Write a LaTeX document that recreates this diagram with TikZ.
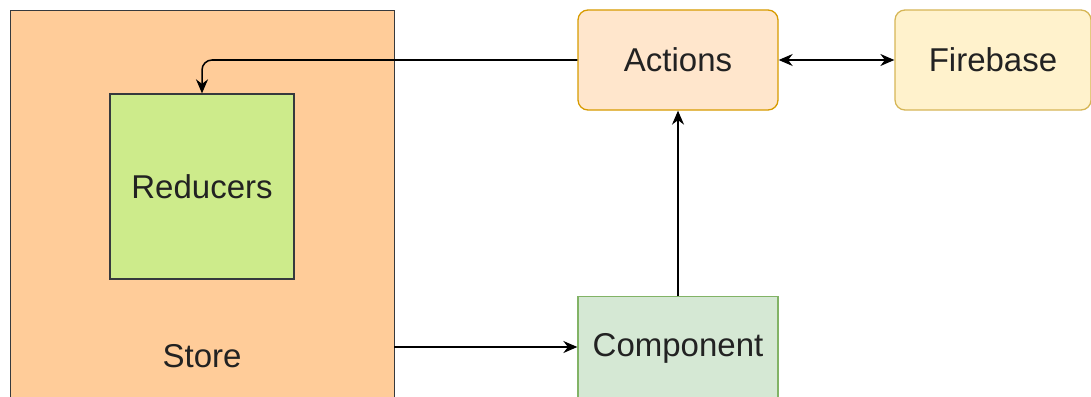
\documentclass[tikz,border=0pt]{standalone}
\usepackage{fontspec}
\setmainfont{Liberation Sans}
\usetikzlibrary{arrows.meta}
\definecolor{storefill}{HTML}{FFCC99}
\definecolor{darkedge}{HTML}{36393D}
\definecolor{redfill}{HTML}{CDEB8B}
\definecolor{actfill}{HTML}{FFE6CC}
\definecolor{actedge}{HTML}{D79B00}
\definecolor{firefill}{HTML}{FFF2CC}
\definecolor{fireedge}{HTML}{D6B656}
\definecolor{compfill}{HTML}{D5E8D4}
\definecolor{compedge}{HTML}{82B366}
\definecolor{txt}{HTML}{222222}
\tikzset{
  lbl/.style={text=txt, font=\fontsize{33}{38}\selectfont},
  box/.style={draw, line width=1.3pt, inner sep=0pt, lbl},
  tip/.style={Stealth[length=14pt,width=12pt]},
  conn/.style={draw=black, line width=1.5pt, -{Stealth[length=14pt,width=12pt]}},
  conn2/.style={draw=black, line width=1.5pt, {Stealth[length=14pt,width=12pt]}-{Stealth[length=14pt,width=12pt]}}
}
\begin{document}
\begin{tikzpicture}[x=1pt,y=-1pt]
\useasboundingbox (0,0) rectangle (1091,396);
\node[box, draw=darkedge, fill=storefill, minimum width=384pt, minimum height=400pt, anchor=north west] (store) at (10,10) {};
\node[lbl] (storelbl) at (202,356) {Store};
\node[box, draw=darkedge, fill=redfill, minimum width=184pt, minimum height=185pt] (red) at (202,186.5) {Reducers};
\node[box, draw=actedge, fill=actfill, rounded corners=10pt, minimum width=200pt, minimum height=100pt] (act) at (678,60) {Actions};
\node[box, draw=fireedge, fill=firefill, rounded corners=10pt, minimum width=196pt, minimum height=100pt] (fire) at (993,60) {Firebase};
\node[box, draw=compedge, fill=compfill, minimum width=200pt, minimum height=104pt, anchor=north] (comp) at (678,296) {};
\node[lbl] (complbl) at (678,348) {Component};
\draw[conn, rounded corners=10pt] (act.west) -| (red.north);
\draw[conn2] (act.east) -- (fire.west);
\draw[conn] (comp.north) -- (act.south);
\coordinate (s1) at (394,347);
\draw[conn] (s1) -- (comp.west |- s1);
\end{tikzpicture}
\end{document}
